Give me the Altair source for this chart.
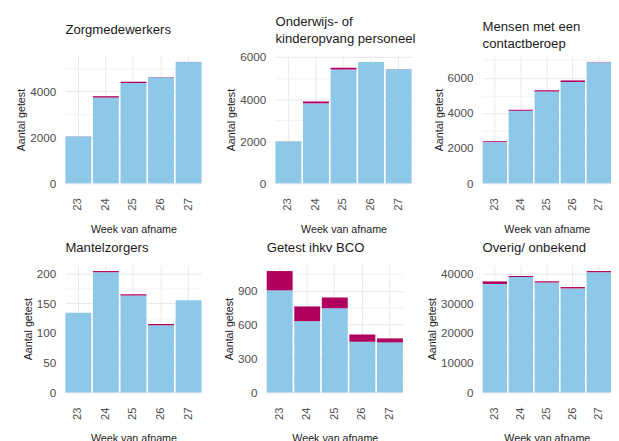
import altair as alt
import pandas as pd
import numpy as np

weeks = ["23", "24", "25", "26", "27"]
titles = [
    "Zorgmedewerkers",
    ["Onderwijs- of", "kinderopvang personeel"],
    ["Mensen met een", "contactberoep"],
    "Mantelzorgers",
    "Getest ihkv BCO",
    "Overig/ onbekend",
]
negatief = [
    [2035, 3730, 4365, 4615, 5275],
    [1985, 3800, 5410, 5765, 5425],
    [2340, 4130, 5220, 5760, 6885],
    [134, 202, 163, 113, 155],
    [906, 632, 746, 450, 444],
    [36450, 38750, 36900, 34950, 40380],
]
positief = [
    [5, 60, 55, 5, 5],
    [5, 90, 90, 5, 5],
    [50, 45, 75, 90, 15],
    [0, 2, 2, 2, 0],
    [171, 131, 97, 63, 35],
    [850, 400, 450, 450, 400],
]
tick_steps = [2000, 2000, 2000, 50, 300, 10000]
title_dy = [-14, 0, 0, 0, 0, 0]
title_offset = [6, 6, 6, 11, 11, 11]
panel_width = [140, 140, 132, 140, 140, 132]

BLUE = "#8DC8E8"
MAGENTA = "#B0005F"
FONT = "Liberation Sans"
LABEL_COLOR = "#4d4d4d"
TITLE_COLOR = "#1a1a1a"


def panel(i):
    rows = []
    for w, n, p in zip(weeks, negatief[i], positief[i]):
        rows.append({"week": w, "status": "Negatief", "aantal": n, "volgorde": 0})
        rows.append({"week": w, "status": "Positief", "aantal": p, "volgorde": 1})
    df = pd.DataFrame(rows)
    totals = [n + p for n, p in zip(negatief[i], positief[i])]
    ymax = max(totals) * 1.05
    step = tick_steps[i]
    ticks = [float(v) for v in np.arange(0, ymax, step / 2)]
    major = f"datum.value % {step} === 0"
    return (
        alt.Chart(
            df,
            title=alt.TitleParams(
                text=titles[i], anchor="start", frame="group", fontSize=13.5,
                font=FONT, fontWeight="normal", color=TITLE_COLOR,
                offset=title_offset[i], lineHeight=17, dy=title_dy[i],
            ),
        )
        .mark_bar()
        .encode(
            x=alt.X(
                "week:N", sort=weeks,
                scale=alt.Scale(paddingInner=0.06, paddingOuter=0),
                axis=alt.Axis(
                    title="Week van afname", labelAngle=270, labelAlign="right",
                    labelBaseline="middle", grid=True, gridColor="#ebe6ee",
                    ticks=False, domain=False, labelPadding=15, titlePadding=14,
                    labelFont=FONT, labelFontSize=11.5, labelColor=LABEL_COLOR,
                    titleFont=FONT, titleFontSize=11, titleFontWeight="normal",
                    titleColor=TITLE_COLOR,
                ),
            ),
            y=alt.Y(
                "aantal:Q", stack="zero",
                scale=alt.Scale(domain=[0, ymax], nice=False),
                axis=alt.Axis(
                    title="Aantal getest", values=ticks,
                    labelExpr=f"{major} ? format(datum.value, 'd') : ''",
                    gridColor={"condition": {"test": major, "value": "#e9e4ec"},
                               "value": "#f4f1f5"},
                    ticks=False, domain=False, labelPadding=10, titlePadding=3,
                    labelFont=FONT, labelFontSize=12, labelColor=LABEL_COLOR,
                    titleFont=FONT, titleFontSize=11, titleFontWeight="normal",
                    titleColor=TITLE_COLOR,
                ),
            ),
            color=alt.Color(
                "status:N",
                scale=alt.Scale(domain=["Negatief", "Positief"], range=[BLUE, MAGENTA]),
                legend=None,
            ),
            order=alt.Order("volgorde:Q"),
        )
        .properties(width=panel_width[i], height=131)
    )


row1 = alt.hconcat(alt.hconcat(panel(0), panel(1), spacing=25), panel(2), spacing=17)
row2 = alt.hconcat(alt.hconcat(panel(3), panel(4), spacing=22), panel(5), spacing=24)
chart = (
    alt.vconcat(row1, row2, spacing=6)
    .properties(padding={"left": 8, "top": 1, "right": 0, "bottom": 0})
    .configure_view(stroke=None)
)

chart.save("out.html", embed_options={"renderer": "svg", "actions": False})
